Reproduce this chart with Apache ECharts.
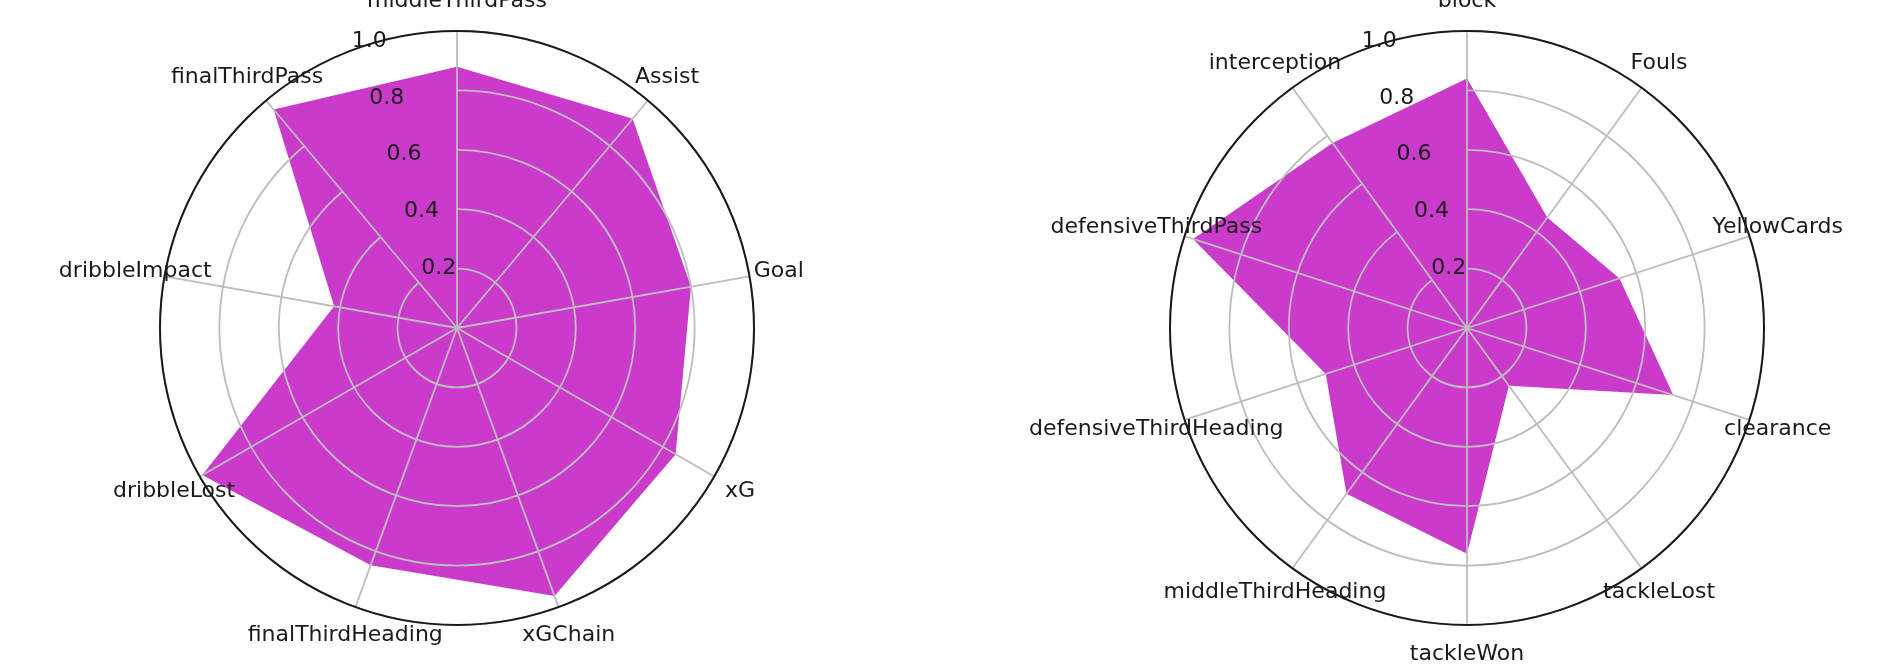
<!DOCTYPE html>
<html>
<head>
<meta charset="utf-8">
<script src="https://cdn.jsdelivr.net/npm/echarts@6/dist/echarts.min.js"></script>
<style>
html,body{margin:0;padding:0;background:#fff;}
#container{width:1903px;height:669px;}
</style>
</head>
<body>
<div id="container"></div>
<script>
// left radar (attacking) - categories go clockwise from the top
var attackNames = ['middleThirdPass','Assist','Goal','xG','xGChain','finalThirdHeading','dribbleLost','dribbleImpact','finalThirdPass'];
var attackValues = [0.88, 0.92, 0.80, 0.85, 0.96, 0.85, 0.99, 0.42, 0.96];

// right radar (defending)
var defenceNames = ['block','Fouls','YellowCards','clearance','tackleLost','tackleWon','middleThirdHeading','defensiveThirdHeading','defensiveThirdPass','interception'];
var defenceValues = [0.84, 0.46, 0.54, 0.73, 0.24, 0.76, 0.69, 0.50, 0.97, 0.77];

// radial ticks
var rTicks = [0.2, 0.4, 0.6, 0.8, 1.0];
var rTickLabels = ['0.2', '0.4', '0.6', '0.8', '1.0'];

var R = 297;
var centers = [[457, 328], [1467, 328]];
var fillColor = '#cb3bcb';
var gridColor = '#bdbdbd';
var font = 'DejaVu Sans';

var chart = echarts.init(document.getElementById('container'));

// radar draws counter-clockwise, so keep the first item on top and reverse the rest
function cw(arr){ return [arr[0]].concat(arr.slice(1).reverse()); }

function polarGrid(idx, names){
    return {
        angle: {
            polarIndex: idx, type: 'category', data: names, startAngle: 90, clockwise: true,
            boundaryGap: false, z: 5,
            axisLine: {show: false},
            axisTick: {show: false}, axisLabel: {show: false},
            splitLine: {show: true, lineStyle: {color: gridColor, width: 1.8}}
        },
        radius: {
            polarIndex: idx, min: 0, max: 1, interval: 0.2, z: 5,
            axisLine: {show: false}, axisTick: {show: false}, axisLabel: {show: false},
            splitLine: {show: true, lineStyle: {color: gridColor, width: 1.8}}
        }
    };
}

var g0 = polarGrid(0, attackNames), g1 = polarGrid(1, defenceNames);
// second polar per chart: full outer circle + helper for label positions
var outerAngle = function(i){
    return {polarIndex: i, type: 'value', min: 0, max: 360, startAngle: 90, clockwise: true, z: 6,
        axisLine: {show: true, lineStyle: {color: '#1a1a1a', width: 2}},
        axisTick: {show: false}, axisLabel: {show: false}, splitLine: {show: false}};
};
var hiddenRadius = function(i){ return {polarIndex: i, min: 0, max: 1, show: false}; };

var option = {
    animation: false,
    polar: [
        {center: centers[0], radius: R},
        {center: centers[1], radius: R},
        {center: centers[0], radius: R},
        {center: centers[1], radius: R}
    ],
    angleAxis: [g0.angle, g1.angle, outerAngle(2), outerAngle(3)],
    radiusAxis: [g0.radius, g1.radius, hiddenRadius(2), hiddenRadius(3)],
    radar: [attackNames, defenceNames].map(function(names, k){
        return {
            center: centers[k], radius: R, startAngle: 90, shape: 'circle',
            indicator: cw(names).map(function(n){ return {name: n, min: 0, max: 1}; }),
            axisName: {show: false}, axisLine: {show: false}, axisTick: {show: false},
            axisLabel: {show: false}, splitLine: {show: false}, splitArea: {show: false}
        };
    }),
    series: [attackValues, defenceValues].map(function(vals, k){
        return {
            type: 'radar', radarIndex: k, symbol: 'none', z: 2,
            lineStyle: {width: 0, opacity: 0},
            areaStyle: {color: fillColor, opacity: 1},
            data: [{value: cw(vals)}]
        };
    })
};
chart.setOption(option);

// tick and category labels placed through the polar coordinate systems
var graphics = [];
[attackNames, defenceNames].forEach(function(names, k){
    names.forEach(function(n, i){
        var p = chart.convertToPixel({polarIndex: k}, [1.1, i]);
        graphics.push({type: 'text', x: p[0], y: p[1], z: 20,
            style: {text: n, fill: '#1a1a1a', fontSize: 22, fontFamily: font, align: 'center', verticalAlign: 'middle'}});
    });
    rTicks.forEach(function(t, i){
        var p = chart.convertToPixel({polarIndex: k + 2}, [t + 0.01, 343]);
        graphics.push({type: 'text', x: p[0], y: p[1], z: 20,
            style: {text: rTickLabels[i], fill: '#1a1a1a', fontSize: 22, fontFamily: font, align: 'center', verticalAlign: 'middle'}});
    });
});
chart.setOption({graphic: graphics});
</script>
</body>
</html>
